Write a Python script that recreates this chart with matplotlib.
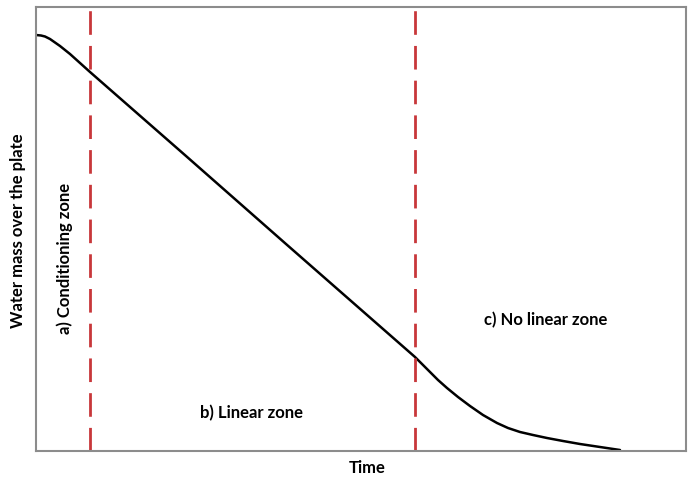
import matplotlib
matplotlib.use("Agg")
import matplotlib.pyplot as plt

# curve (arbitrary units)
time = [0, 5, 9, 14, 24, 34, 44, 54, 150, 250, 379, 387, 394, 402, 411, 422,
        434, 447, 461, 472, 484, 497, 511, 527, 544, 564, 584]
mass = [416, 415.5, 414.5, 412, 405, 397, 388, 379, 295, 207, 94, 86, 79, 71,
        63, 54, 45, 36, 28, 23, 19, 16, 13, 10, 7, 4, 1]

zone_limits = [54, 379]

plt.rcParams['font.family'] = ['Lato', 'DejaVu Sans']

fig = plt.figure(figsize=(6.93, 4.82), dpi=100)
ax = fig.add_axes([36/693, 31/482, 650/693, 444/482])

ax.plot(time, mass, color="black", linewidth=1.8, solid_capstyle="round",
        solid_joinstyle="round")
for t in zone_limits:
    ax.axvline(t, color="#c8373a", linewidth=2, linestyle=(0, (8.5, 4)))

ax.set_xlim(0, 650)
ax.set_ylim(0, 444)
ax.set_xticks([])
ax.set_yticks([])
for s in ax.spines.values():
    s.set_color("#8c8c8c")
    s.set_linewidth(1.5)

ax.text(29, 193, "a) Conditioning zone", rotation=90, ha="center", va="center",
        fontsize=12, fontweight="bold")
ax.text(215, 38, "b) Linear zone", ha="center", va="center",
        fontsize=12, fontweight="bold")
ax.text(510, 131, "c) No linear zone", ha="center", va="center",
        fontsize=12, fontweight="bold")

fig.text(367/693, 1 - 468/482, "Time", ha="center", va="center",
         fontsize=12, fontweight="bold")
fig.text(18/693, 1 - 231/482, "Water mass over the plate", rotation=90,
         ha="center", va="center", fontsize=12, fontweight="bold")

fig.savefig("out.png", dpi=100)
